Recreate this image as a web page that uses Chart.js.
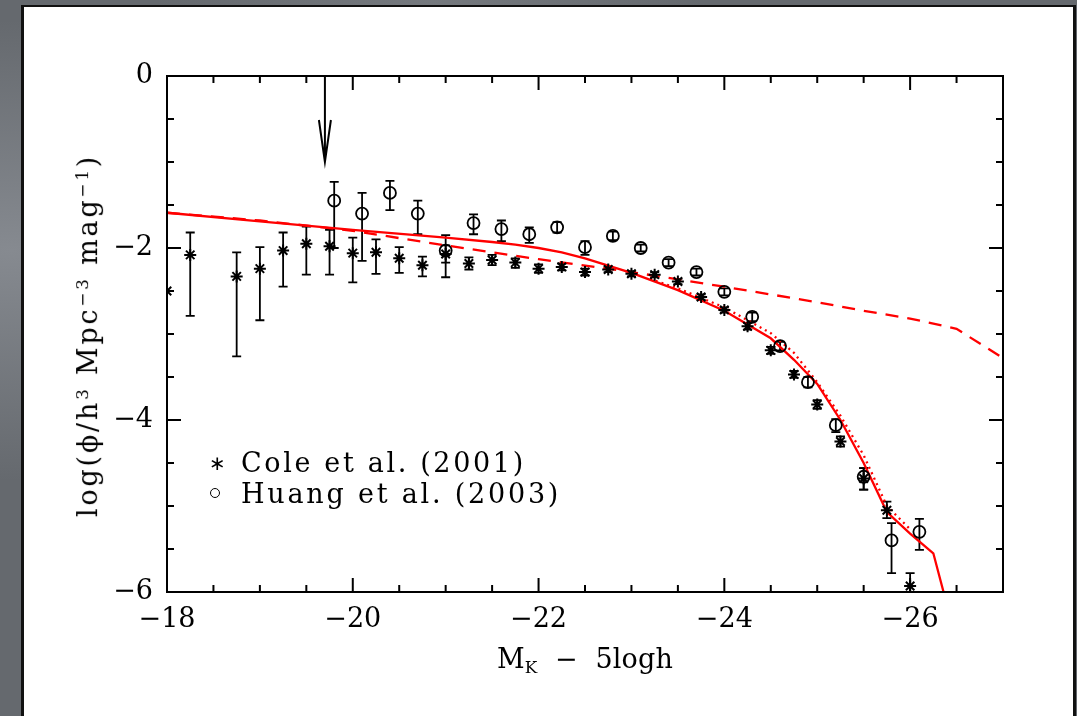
<!DOCTYPE html>
<html><head><meta charset="utf-8">
<script src="https://cdn.jsdelivr.net/npm/chart.js@4.4.1/dist/chart.umd.min.js"></script>
<style>
html,body{margin:0;padding:0;}
body{width:1077px;height:716px;overflow:hidden;position:relative;
 background:radial-gradient(ellipse at 1% 35%, #868a90 0%, rgba(0,0,0,0) 35%),
 radial-gradient(ellipse at 99% 60%, #7b7f84 0%, rgba(0,0,0,0) 25%),
 radial-gradient(ellipse at 40% 0%, #75797e 0%, rgba(0,0,0,0) 30%), #65696e;}
#panel{position:absolute;left:21px;top:5px;width:1049px;height:760px;background:#fff;
 border-left:3px solid #111;border-top:2px solid #111;border-right:3px solid #111;}
#c{position:absolute;left:0;top:0;}
.txt{position:absolute;font-family:"DejaVu Serif",serif;font-size:27px;line-height:27px;color:#000;white-space:nowrap;}
.txt sup{font-size:0.62em;vertical-align:0;position:relative;top:-0.55em;}
.txt sub{font-size:0.62em;vertical-align:0;position:relative;top:0.3em;}
#ytitle{transform-origin:center center;}
.mk{position:absolute;}
</style></head><body>
<div id="panel"></div>
<canvas id="c" width="1077" height="716"></canvas>
<div class="txt" id="ytitle">log(ϕ/h<sup>3</sup> Mpc<sup>−3</sup> mag<sup>−1</sup>)</div>
<div class="txt" id="xtitle">M<sub>K</sub>&nbsp;&nbsp;−&nbsp;&nbsp;5logh</div>
<div class="txt" id="leg1">Cole et al. (2001)</div>
<div class="txt" id="leg2">Huang et al. (2003)</div>
<div class="mk" id="mk1" style="left:209px;top:453px;font-family:'DejaVu Sans';font-size:20px;line-height:20px;">∗</div>
<div class="mk" id="mk2" style="left:210px;top:488px;width:8px;height:8px;border:1.5px solid #000;border-radius:50%;"></div>
<script>
// ---------- data ----------
const xTicks = [-18, -20, -22, -24, -26];
const yTicks = [0, -2, -4, -6];

const coleMag = [-18.0,-18.25,-18.75,-19.0,-19.25,-19.5,-19.75,-20.0,-20.25,-20.5,-20.75,-21.0,-21.25,-21.5,-21.75,-22.0,-22.25,-22.5,-22.75,-23.0,-23.25,-23.5,-23.75,-24.0,-24.25,-24.5,-24.75,-25.0,-25.25,-25.5,-25.75,-26.0];
const colePhi = [-2.50,-2.08,-2.33,-2.24,-2.03,-1.95,-1.98,-2.06,-2.05,-2.12,-2.20,-2.07,-2.18,-2.14,-2.17,-2.24,-2.22,-2.28,-2.25,-2.30,-2.31,-2.39,-2.57,-2.72,-2.91,-3.19,-3.47,-3.82,-4.25,-4.68,-5.05,-5.93];
const coleHi  = [null,-1.82,-2.05,-1.99,-1.82,-1.75,-1.79,-1.88,-1.90,-1.99,-2.10,-1.97,-2.11,-2.08,-2.12,-2.19,-2.18,-2.24,-2.22,-2.27,-2.28,-2.36,-2.54,-2.69,-2.87,-3.15,-3.43,-3.77,-4.19,-4.56,-4.95,-5.78];
const coleLo  = [null,-2.79,-3.26,-2.84,-2.45,-2.31,-2.31,-2.40,-2.30,-2.29,-2.33,-2.17,-2.25,-2.20,-2.23,-2.29,-2.26,-2.32,-2.28,-2.33,-2.34,-2.42,-2.60,-2.75,-2.95,-3.23,-3.51,-3.87,-4.31,-4.81,-5.14,-6.10];

const huangMag = [-19.8,-20.1,-20.4,-20.7,-21.0,-21.3,-21.6,-21.9,-22.2,-22.5,-22.8,-23.1,-23.4,-23.7,-24.0,-24.3,-24.6,-24.9,-25.2,-25.5,-25.8,-26.1];
const huangPhi = [-1.45,-1.60,-1.36,-1.60,-2.03,-1.71,-1.78,-1.84,-1.76,-1.99,-1.86,-2.00,-2.17,-2.28,-2.51,-2.80,-3.14,-3.56,-4.06,-4.66,-5.40,-5.30];
const huangHi  = [-1.23,-1.36,-1.22,-1.45,-1.85,-1.61,-1.68,-1.76,-1.70,-1.92,-1.81,-1.96,-2.13,-2.24,-2.47,-2.75,-3.09,-3.50,-3.99,-4.56,-5.20,-5.15];
const huangLo  = [-2.00,-2.15,-1.56,-1.84,-2.34,-1.84,-1.92,-1.94,-1.82,-2.08,-1.91,-2.04,-2.21,-2.32,-2.55,-2.85,-3.19,-3.62,-4.14,-4.81,-5.78,-5.51];

const solidMag = [-18,-19,-20,-21,-21.5,-21.75,-22,-22.25,-22.5,-23,-23.5,-24,-24.5,-24.75,-25,-25.25,-25.5,-25.75,-26,-26.25,-26.36];
const solidPhi = [-1.59,-1.69,-1.79,-1.88,-1.93,-1.96,-2.00,-2.05,-2.12,-2.29,-2.49,-2.73,-3.05,-3.30,-3.58,-4.00,-4.50,-5.07,-5.32,-5.55,-6.0];

const dashedMag = [-18,-19,-20,-21,-22,-23,-24,-25,-25.5,-26,-26.5,-27];
const dashedPhi = [-1.59,-1.68,-1.80,-1.97,-2.13,-2.28,-2.45,-2.63,-2.73,-2.82,-2.94,-3.28];

const dottedMag = [-23.2,-23.5,-24.0,-24.5,-24.75,-25.0,-25.25,-25.5,-25.75,-26.0];
const dottedPhi = [-2.36,-2.47,-2.69,-2.99,-3.22,-3.56,-3.95,-4.41,-5.00,-5.27];

const arrowMag = -19.7, arrowFrom = 0, arrowTo = -1.0;

// ---------- helpers ----------
const pts = (xs, ys) => xs.map((v, i) => ({x: v, y: ys[i]}));
const fmt = v => v < 0 ? '\u2212' + Math.abs(v) : String(v);
const FONT = {family: 'DejaVu Serif', size: 27};

const errorBars = {
  id: 'errorBars',
  beforeDatasetsDraw(chart) {
    const {ctx, chartArea: a, scales: {x, y}} = chart;
    ctx.save();
    ctx.beginPath(); ctx.rect(a.left, a.top, a.right - a.left, a.bottom - a.top); ctx.clip();
    ctx.strokeStyle = '#000'; ctx.lineWidth = 1.8;
    chart.data.datasets.forEach(ds => {
      if (!ds.errLo) return;
      ds.data.forEach((p, i) => {
        const lo = ds.errLo[i], hi = ds.errHi[i];
        if (lo == null) return;
        const px = x.getPixelForValue(p.x), p1 = y.getPixelForValue(lo), p2 = y.getPixelForValue(hi);
        ctx.beginPath();
        ctx.moveTo(px, p1); ctx.lineTo(px, p2);
        ctx.moveTo(px - 4.5, p1); ctx.lineTo(px + 4.5, p1);
        ctx.moveTo(px - 4.5, p2); ctx.lineTo(px + 4.5, p2);
        ctx.stroke();
      });
    });
    ctx.restore();
  }
};

const frame = {
  id: 'frame',
  afterDraw(chart) {
    const {ctx, chartArea: a, scales: {x, y}} = chart;
    ctx.save();
    ctx.strokeStyle = '#000'; ctx.lineWidth = 2;
    ctx.strokeRect(a.left, a.top, a.right - a.left, a.bottom - a.top);
    ctx.beginPath();
    for (let m = -18; m >= -27; m -= 0.5) {
      const px = x.getPixelForValue(m);
      const L = (Math.abs(m) % 2 === 0) ? 14 : 7;
      ctx.moveTo(px, a.bottom); ctx.lineTo(px, a.bottom - L);
      ctx.moveTo(px, a.top); ctx.lineTo(px, a.top + L);
    }
    for (let v = 0; v >= -6; v -= 0.5) {
      const py = y.getPixelForValue(v);
      const L = (Math.abs(v) % 2 === 0) ? 14 : 7;
      ctx.moveTo(a.left, py); ctx.lineTo(a.left + L, py);
      ctx.moveTo(a.right, py); ctx.lineTo(a.right - L, py);
    }
    ctx.stroke();
    // arrow
    const ax = x.getPixelForValue(arrowMag), ay1 = y.getPixelForValue(arrowFrom), ay2 = y.getPixelForValue(arrowTo);
    ctx.lineWidth = 2;
    ctx.beginPath();
    ctx.moveTo(ax, ay1); ctx.lineTo(ax, ay2);
    ctx.moveTo(ax - 6, ay2 - 42); ctx.lineTo(ax, ay2); ctx.lineTo(ax + 6, ay2 - 42);
    ctx.stroke();
    ctx.restore();
  }
};

new Chart(document.getElementById('c'), {
  type: 'scatter',
  data: {
    datasets: [
      {label: 'Cole et al. (2001)', data: pts(coleMag, colePhi), errLo: coleLo, errHi: coleHi,
       pointStyle: 'star', pointRadius: 6, borderColor: '#000', backgroundColor: '#000', borderWidth: 2, order: 0},
      {label: 'Huang et al. (2003)', data: pts(huangMag, huangPhi), errLo: huangLo, errHi: huangHi,
       pointStyle: 'circle', pointRadius: 6, borderColor: '#000', backgroundColor: 'rgba(0,0,0,0)', borderWidth: 1.8, order: 0},
      {label: 'solid', data: pts(solidMag, solidPhi), showLine: true, pointRadius: 0, borderColor: '#ff0000', borderWidth: 2.3, order: 2},
      {label: 'dashed', data: pts(dashedMag, dashedPhi), showLine: true, pointRadius: 0, borderColor: '#ff0000', borderWidth: 2.3, borderDash: [13, 9], order: 2},
      {label: 'dotted', data: pts(dottedMag, dottedPhi), showLine: true, pointRadius: 0, borderColor: '#ff0000', borderWidth: 2.3, borderDash: [2, 4], order: 2}
    ]
  },
  options: {
    responsive: false, animation: false,
    layout: {padding: {left: 0, right: 74, top: 76, bottom: 0}},
    plugins: {legend: {display: false}, tooltip: {enabled: false}},
    scales: {
      x: {type: 'linear', min: -27, max: -18, reverse: true,
          grid: {display: false, drawTicks: false}, border: {display: false},
          ticks: {font: FONT, color: '#000', padding: 12, maxRotation: 0, autoSkip: false, callback: v => fmt(v)},
          afterBuildTicks: s => { s.ticks = xTicks.map(v => ({value: v})); },
          afterFit: s => { s.height = 124; }},
      y: {type: 'linear', min: -6, max: 0,
          grid: {display: false, drawTicks: false}, border: {display: false},
          ticks: {font: FONT, color: '#000', padding: 14, autoSkip: false, callback: v => fmt(v)},
          afterBuildTicks: s => { s.ticks = yTicks.map(v => ({value: v})); },
          afterFit: s => { s.width = 167; }}
    }
  },
  plugins: [errorBars, frame]
});

// ---------- text layout ----------
function fit(el, target) {
  const n = el.textContent.length;
  const w = el.offsetWidth;
  el.style.letterSpacing = ((target - w) / Math.max(1, n - 1)) + 'px';
}
const l1 = document.getElementById('leg1'), l2 = document.getElementById('leg2');
fit(l1, 282); fit(l2, 317);
l1.style.left = '241px'; l1.style.top = '449px';
l2.style.left = '241px'; l2.style.top = '480px';
const xt = document.getElementById('xtitle');
fit(xt, 176);
xt.style.left = '497px'; xt.style.top = '645px';
const yt = document.getElementById('ytitle');
fit(yt, 360);
const w = yt.offsetWidth, h = yt.offsetHeight;
yt.style.left = (89 - w / 2) + 'px'; yt.style.top = (335 - h / 2) + 'px';
yt.style.transform = 'rotate(-90deg)';
</script>
</body></html>
